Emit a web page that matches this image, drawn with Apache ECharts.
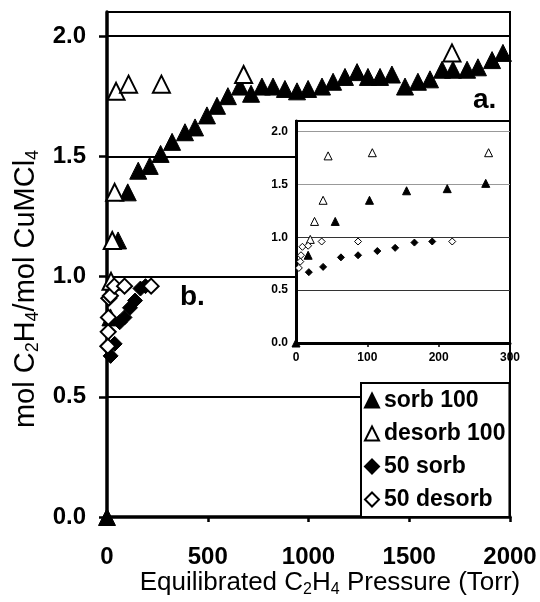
<!DOCTYPE html>
<html>
<head>
<meta charset="utf-8">
<script src="https://cdn.jsdelivr.net/npm/echarts@6/dist/echarts.min.js"></script>
<style>
html, body { margin: 0; padding: 0; background: #fff; }
#chart { width: 540px; height: 602px; }
</style>
</head>
<body>
<div id="chart"></div>
<script>
// isotherm points: [pressure (Torr), mol C2H4 / mol CuMCl4]
const sorb100 = [[0, 0], [17, 0.83], [55, 1.15], [103, 1.35], [155, 1.44], [212, 1.46],
    [266, 1.51], [323, 1.56], [387, 1.60], [437, 1.62], [496, 1.67], [546, 1.71],
    [600, 1.75], [660, 1.79], [715, 1.76], [769, 1.79], [824, 1.79], [883, 1.78],
    [943, 1.77], [998, 1.78], [1067, 1.79], [1122, 1.81], [1181, 1.83], [1241, 1.85],
    [1295, 1.83], [1355, 1.83], [1414, 1.84], [1479, 1.79], [1543, 1.81], [1603, 1.82],
    [1663, 1.86], [1717, 1.86], [1787, 1.86], [1841, 1.87], [1911, 1.90], [1965, 1.93]];
const desorb100 = [[20, 0.98], [26, 1.15], [38, 1.35], [45, 1.77], [107, 1.80],
    [270, 1.80], [678, 1.84], [1712, 1.93]];
const sorb50 = [[18, 0.67], [38, 0.72], [63, 0.81], [87, 0.83], [114, 0.87],
    [139, 0.90], [166, 0.95], [191, 0.96]];
const desorb50 = [[4, 0.71], [6, 0.77], [7, 0.83], [9, 0.91], [17, 0.92],
    [36, 0.96], [87, 0.96], [219, 0.96]];

const seriesNames = ["sorb 100", "desorb 100", "50 sorb", "50 desorb"];
const yTicks = [0, 0.5, 1, 1.5, 2];
const insetXMax = 300;

const font = "Liberation Sans";
const chart = echarts.init(document.getElementById("chart"));

// symbol look for each series, big for the main plot, small for the inset
function markStyle(i, big) {
    const filled = i % 2 === 0;
    return {
        symbol: i < 2 ? "triangle" : "diamond",
        symbolSize: big ? (i < 2 ? 17 : 15) : (i < 2 ? 8 : 7),
        itemStyle: {
            color: filled ? "#000" : "#fff",
            borderColor: "#000",
            borderWidth: filled ? 1 : (big ? 2 : 1),
            opacity: 1,
        },
    };
}

const allData = [sorb100, desorb100, sorb50, desorb50];
const series = [];
allData.forEach((d, i) => {
    series.push(Object.assign({
        name: seriesNames[i],
        type: "scatter",
        xAxisIndex: 0,
        yAxisIndex: 0,
        data: d,
        z: 2,
    }, markStyle(i, true)));
});
allData.forEach((d, i) => {
    series.push(Object.assign({
        name: seriesNames[i],
        type: "scatter",
        xAxisIndex: 1,
        yAxisIndex: 1,
        data: d.filter((p) => p[0] <= insetXMax),
        z: 8,
    }, markStyle(i, false)));
});

const sub = {
    n: { fontFamily: font, fontSize: 29, lineHeight: 32, color: "#000" },
    s: { fontFamily: font, fontSize: 18, lineHeight: 18, verticalAlign: "bottom", color: "#000" },
};
const subX = {
    n: { fontFamily: font, fontSize: 26, lineHeight: 30, color: "#000" },
    s: { fontFamily: font, fontSize: 16, lineHeight: 16, verticalAlign: "bottom", color: "#000" },
};

const options = {
    animation: false,
    backgroundColor: "#fff",
    grid: [
        {
            left: 107, right: 30, top: 12, bottom: 85,
            show: true, borderColor: "#000", borderWidth: 2,
        },
        {
            left: 296, right: 30, top: 121, bottom: 259,
            show: true, backgroundColor: "#fff", borderColor: "#000", borderWidth: 2,
            z: 5,
        },
    ],
    xAxis: [
        {
            type: "value", gridIndex: 0, min: 0, max: 2000, interval: 500,
            axisLine: { lineStyle: { color: "#000", width: 3.5 } },
            axisTick: { length: 5, lineStyle: { color: "#000", width: 2.5 } },
            axisLabel: {
                formatter: (v) => String(v),
                color: "#000", fontFamily: font, fontWeight: "bold", fontSize: 24, margin: 28,
            },
            splitLine: { show: false },
        },
        {
            type: "value", gridIndex: 1, min: 0, max: insetXMax, interval: 100, z: 6,
            axisLine: { lineStyle: { color: "#000", width: 3 } },
            axisTick: { length: 4, lineStyle: { color: "#000", width: 1.5 } },
            axisLabel: {
                formatter: (v) => String(v),
                color: "#000", fontFamily: font, fontWeight: "bold", fontSize: 12, margin: 9,
            },
            splitLine: { show: false },
        },
    ],
    yAxis: [
        {
            type: "value", gridIndex: 0, min: 0, max: 2.1, interval: 0.5,
            axisLine: { lineStyle: { color: "#000", width: 3.5 } },
            axisTick: { customValues: yTicks, length: 8, lineStyle: { color: "#000", width: 2.5 } },
            axisLabel: {
                customValues: yTicks,
                formatter: (v) => v.toFixed(1),
                color: "#000", fontFamily: font, fontWeight: "bold", fontSize: 24, margin: 21,
            },
            splitLine: { lineStyle: { color: "#000", width: 2 } },
        },
        {
            type: "value", gridIndex: 1, min: 0, max: 2.1, interval: 0.5, z: 6,
            axisLine: { lineStyle: { color: "#000", width: 3 } },
            axisTick: { show: false },
            axisLabel: {
                customValues: yTicks,
                formatter: (v) => v.toFixed(1),
                color: "#000", fontFamily: font, fontWeight: "bold", fontSize: 12, margin: 8,
            },
            splitLine: {
                lineStyle: {
                    color: ["#333", "#333", "#333", "#999", "#999", "#000"],
                    width: 1,
                },
            },
        },
    ],
    legend: {
        data: seriesNames,
        orient: "vertical",
        left: 361,
        top: 383,
        itemWidth: 14,
        itemHeight: 14,
        itemGap: 10,
        padding: [6, 4, 6, 3],
        backgroundColor: "#fff",
        borderColor: "#000",
        borderWidth: 2,
        borderRadius: 0,
        textStyle: { color: "#000", fontFamily: font, fontWeight: "bold", fontSize: 23 },
        z: 10,
    },
    graphic: [
        {
            type: "text", x: 26, y: 289, rotation: Math.PI / 2, z: 10,
            style: {
                text: "{n|mol C}{s|2}{n|H}{s|4}{n|/mol CuMCl}{s|4}",
                rich: sub, align: "center", verticalAlign: "middle",
            },
        },
        {
            type: "text", x: 330, y: 583, z: 10,
            style: {
                text: "{n|Equilibrated C}{s|2}{n|H}{s|4}{n| Pressure (Torr)}",
                rich: subX, align: "center", verticalAlign: "middle",
            },
        },
        {
            type: "text", x: 473, y: 100, z: 10,
            style: { text: "a.", fontFamily: font, fontWeight: "bold", fontSize: 28, fill: "#000", verticalAlign: "middle" },
        },
        {
            type: "text", x: 180, y: 297, z: 10,
            style: { text: "b.", fontFamily: font, fontWeight: "bold", fontSize: 28, fill: "#000", verticalAlign: "middle" },
        },
    ],
    series: series,
};

chart.setOption(options);
</script>
</body>
</html>
